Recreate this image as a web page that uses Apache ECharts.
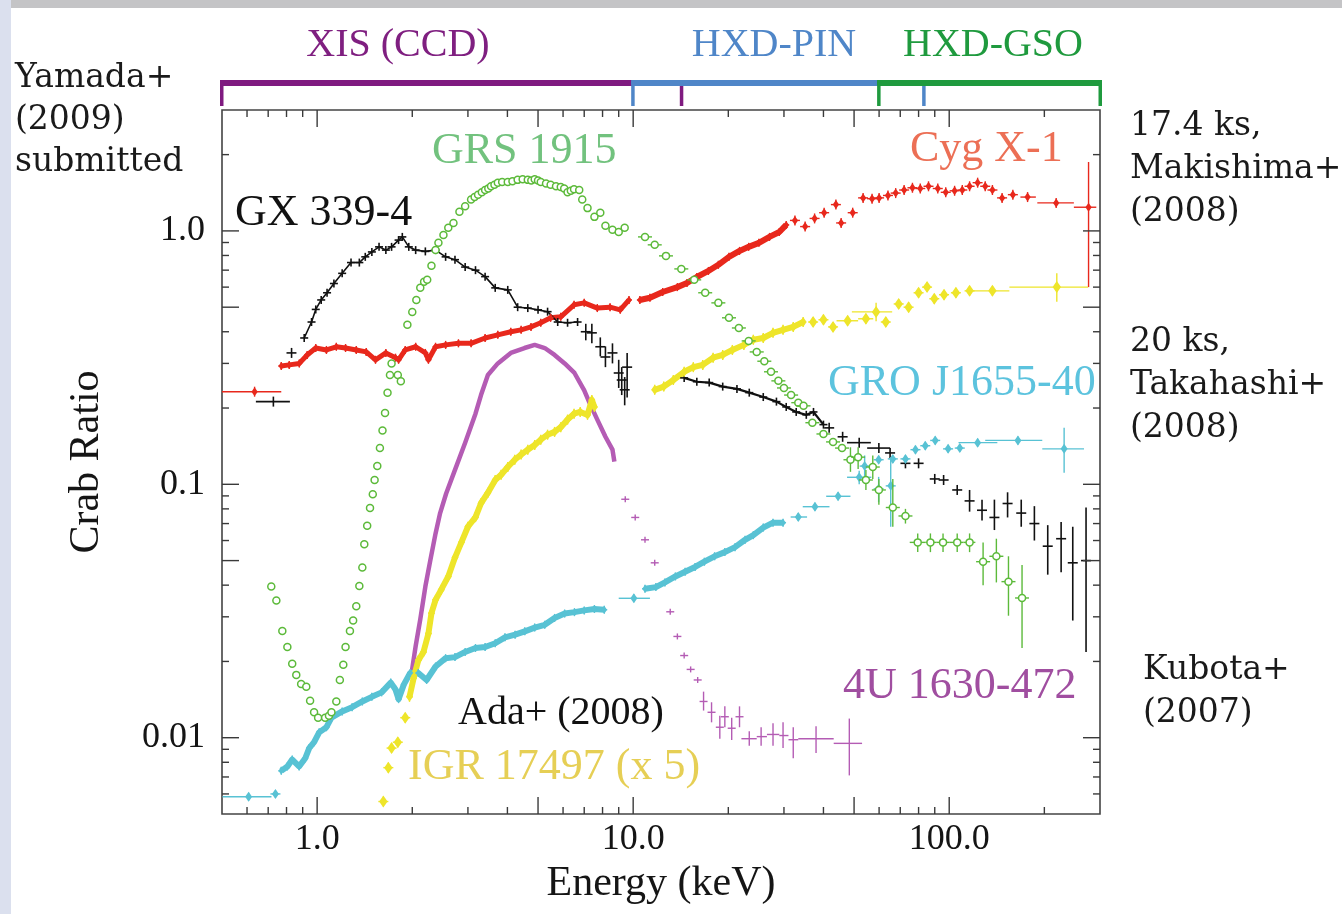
<!DOCTYPE html>
<html>
<head>
<meta charset="utf-8">
<script src="https://cdn.jsdelivr.net/npm/echarts@6/dist/echarts.min.js"></script>
<style>
html, body { margin: 0; padding: 0; background: #fff; }
#main { width: 1342px; height: 914px; }
</style>
</head>
<body>
<div id="main"></div>
<script>
// axis ranges and tick values
var X_MIN = 0.5, X_MAX = 300, Y_MIN = 0.005, Y_MAX = 3;
var xTicks = [0.6, 0.7, 0.8, 0.9, 1, 2, 3, 4, 5, 6, 7, 8, 9, 10, 20, 30, 40, 50, 60, 70, 80, 90, 100, 200];
var yTicks = [0.006, 0.007, 0.008, 0.009, 0.01, 0.02, 0.03, 0.04, 0.05, 0.06, 0.07, 0.08, 0.09,
              0.1, 0.2, 0.3, 0.4, 0.5, 0.6, 0.7, 0.8, 0.9, 1, 2];

// detector bands (keV)
var instruments = ['XIS (CCD)', 'HXD-PIN', 'HXD-GSO'];
var instrumentBands = [[0.5, 14.2], [10, 83], [60, 300]];

// points: [E, ratio] or [E, ratio, Elo, Ehi, Rlo, Rhi] (0 = no explicit error)
var cygXis = [[0.77,0.293],[0.816,0.296],[0.878,0.30],[0.93,0.324],[0.99,0.345],[1.07,0.339],[1.15,0.349],
  [1.23,0.345],[1.33,0.339],[1.43,0.333],[1.53,0.31],[1.65,0.33],[1.77,0.316],[1.81,0.31],[1.9,0.339],
  [2.05,0.349],[2.2,0.33],[2.25,0.31],[2.37,0.349],[2.55,0.355],[2.8,0.36],[3.07,0.36],[3.4,0.378],
  [3.73,0.389],[4.1,0.40],[4.42,0.407],[4.75,0.418],[5.1,0.434],[5.48,0.454],[5.9,0.458],[6.5,0.511],
  [7.0,0.52],[7.7,0.496],[8.45,0.50],[9.1,0.488],[9.7,0.534]];
var cygPin = [[10.5,0.534],[11.3,0.545],[12.4,0.574],[13.8,0.60],[14.8,0.623],[15.9,0.658],[17.3,0.695],
  [18.6,0.735],[20.1,0.79],[21.7,0.834],[23.2,0.865],[25,0.897],[27,0.947],[29,0.99],[30.5,1.056]];
var cygHard = [[0.634,0.232,0.5,0.77,0,0],[32.5,1.10],[35,1.04],[37.5,1.12],[40.2,1.18],[43.8,1.27],
  [45.5,1.075],[49.5,1.18],[53.4,1.35],[57,1.34],[60,1.35],[64,1.38],[67.7,1.41],[72,1.45],[76.5,1.48],
  [81,1.47],[86,1.5],[92,1.47],[97.5,1.42],[104,1.44],[110,1.45],[116,1.5],[123,1.55],[130,1.5],[137,1.45],
  [147,1.35],[159,1.39],[177,1.36,168,188,0,0],[218,1.29,190,248,0,0],[276,1.24,248,292,0.60,1.87]];

var gxXis = [[0.91,0.378],[0.96,0.437],[0.99,0.49],
  [1.03,0.534],[1.075,0.57],[1.13,0.62],[1.2,0.68],[1.28,0.75],[1.36,0.75],[1.42,0.79],[1.49,0.826],
  [1.57,0.865],[1.65,0.84],[1.72,0.865],[1.81,0.92],[1.86,0.947],[1.95,0.865],[2.05,0.84],[2.2,0.83],
  [2.37,0.84],[2.55,0.79],[2.73,0.77],[2.94,0.72],[3.17,0.70],[3.4,0.66],[3.66,0.596],[4.01,0.585],
  [4.31,0.50],[4.64,0.496],[5.0,0.488],[5.36,0.48],[5.77,0.437],[6.2,0.434],[6.67,0.437]];
var gxPin = [[14.5,0.263],[15.9,0.254],[17.4,0.252],[19.2,0.243],[21.3,0.238],[23.3,0.23],[25.8,0.221],
  [28.4,0.212],[30.5,0.202],[32.8,0.193],[35.3,0.188],[37.2,0.193],[40,0.172]];
var gxHard = [[0.727,0.212,0.64,0.82,0,0],[0.83,0.33,0.8,0.86,0,0],
  [7.08,0.40,0,0,0.37,0.43],[7.4,0.396,0,0,0.36,0.43],[7.87,0.349,0,0,0.32,0.38],[8.17,0.318,0,0,0.29,0.35],
  [8.6,0.33,0,0,0.3,0.36],[9.0,0.275,0,0,0.24,0.31],[9.2,0.258,0,0,0.225,0.29],[9.4,0.236,0,0,0.205,0.265],
  [9.57,0.29,0,0,0.22,0.33],
  [41.7,0.167],[46,0.154],
  [51.9,0.146,47.5,56.5,0,0],[59.9,0.139,55,65,0,0],[65,0.133],[72.7,0.121],[80,0.121],[90,0.105],[96,0.104],
  [106,0.095],[116,0.086,0,0,0.078,0.095],[127,0.079,0,0,0.072,0.087],[139,0.074,0,0,0.066,0.087],
  [153,0.084,0,0,0.074,0.093],[169,0.077,0,0,0.068,0.087],[186,0.07,0,0,0.06,0.082],
  [205,0.057,0,0,0.044,0.069],[226,0.061,0,0,0.045,0.071],[246,0.049,0,0,0.029,0.068],
  [271,0.050,0,0,0.0218,0.081]];

var grsXis = [[0.716,0.0395],[0.743,0.0348],[0.776,0.0264],[0.805,0.0228],[0.834,0.0196],[0.859,0.0177],
  [0.89,0.0163],[0.924,0.0159],[0.95,0.014],[0.978,0.0126],[1.007,0.012],[1.06,0.012],[1.09,0.0122],
  [1.11,0.0126],[1.15,0.0139],[1.18,0.0169],[1.21,0.0194],[1.23,0.0228],[1.27,0.0264],[1.3,0.029],
  [1.33,0.033],[1.36,0.0397],[1.39,0.047],[1.41,0.058],[1.44,0.0686],[1.47,0.0807],[1.5,0.0913],
  [1.52,0.104],[1.55,0.118],[1.58,0.139],[1.61,0.163],[1.64,0.191],[1.67,0.23],[1.7,0.27],[1.72,0.30],
  [1.8,0.27],[1.84,0.255],[1.93,0.426],[2.0,0.479],[2.06,0.534],[2.12,0.596],[2.18,0.63],[2.23,0.641],
  [2.3,0.728],[2.37,0.84],[2.42,0.897],[2.51,0.964],[2.6,1.03],[2.7,1.075],[2.82,1.19],[2.94,1.25],
  [3.07,1.33],[3.15,1.36],[3.23,1.39],[3.32,1.42],[3.4,1.45],[3.48,1.47],[3.55,1.5],[3.64,1.52],[3.73,1.55],
  [3.85,1.56],[4.01,1.56],[4.15,1.57],[4.31,1.59],[4.47,1.6],[4.64,1.59],[4.76,1.58],[4.88,1.6],[5.0,1.58],
  [5.1,1.56],[5.3,1.54],[5.48,1.52],[5.7,1.5],[5.9,1.49],[6.05,1.47],[6.2,1.42],[6.35,1.44],[6.5,1.46],
  [6.75,1.45],[6.9,1.33],[7.17,1.23],[7.54,1.136],[7.87,1.18],[8.17,1.047],[8.6,1.01],[9.0,0.99],[9.4,1.028]];
var grsPin = [[10.9,0.947],[11.7,0.881],[12.7,0.797],[14.2,0.708],[15.6,0.641],[16.9,0.57],[18.6,0.52],[20.1,0.454],
  [21.6,0.414],[23.2,0.368],[24.6,0.333],[26,0.306],[27.3,0.278],[28.8,0.256],[30,0.24],[31.6,0.225],
  [33.3,0.21],[34.6,0.204],[36.9,0.175],[40,0.158],[42.9,0.147],[45.8,0.139],
  [48.7,0.125,0,0,0.112,0.14],[51.5,0.128,0,0,0.115,0.14],[54.5,0.104,0,0,0.095,0.114],
  [57.3,0.117,0,0,0.105,0.13],[59.9,0.095,0,0,0.083,0.105],[66.3,0.081,0,0,0.068,0.105],
  [72.7,0.075,0,0,0.07,0.08],[79.5,0.059,75,84,0.054,0.064],[87.2,0.059,84,91,0.054,0.064],
  [95.6,0.059,91,100,0.054,0.064],[106,0.059,100,111,0.054,0.064],[116,0.059,111,121,0.054,0.064],
  [128,0.0495,0,0,0.040,0.059],[141,0.052,0,0,0.041,0.061],[154,0.0413,0,0,0.0303,0.052],
  [170,0.0356,0,0,0.0226,0.048]];

var u4Band = [[1.99,0.018],[2.05,0.023],[2.12,0.0293],[2.2,0.0395],[2.28,0.05],[2.37,0.064],[2.45,0.077],
  [2.56,0.092],[2.73,0.114],[2.94,0.146],[3.17,0.19],[3.3,0.225],[3.47,0.27],[3.73,0.30],[4.1,0.33],
  [4.53,0.345],[4.88,0.355],[5.25,0.345],[5.64,0.324],[6.07,0.30],[6.52,0.275],[7.0,0.235],[7.27,0.21],
  [7.7,0.18],[8.17,0.154],[8.6,0.137],[8.72,0.123]];
var u4Hard = [[9.44,0.0873],[10.15,0.074],[10.9,0.0604],[11.7,0.049],[13.1,0.0314],[13.8,0.0251],
  [14.5,0.0211],[15.2,0.0186],[16,0.0169],[16.7,0.0139,0,0,0.0128,0.0152],[17.7,0.0126,0,0,0.0115,0.0138],
  [18.8,0.011,0,0,0.0099,0.0122],[19.5,0.0121,0,0,0.011,0.0133],[20.5,0.0109,0,0,0.0098,0.012],
  [21.7,0.0121,0,0,0.011,0.0133],[23.3,0.00991,22,24.6,0.0093,0.0106],[25.4,0.0101,24.6,26.5,0.0093,0.011],
  [27.7,0.0103,26.5,29,0.0093,0.0114],[29.8,0.0102,29,31,0.0091,0.0115],[32.1,0.00982,31,33.3,0.0083,0.011],
  [37.9,0.0099,33.3,43.1,0.0087,0.0111],[48.3,0.0095,43.1,53,0.0071,0.0119]];

var groXis = [[0.77,0.0074],[0.805,0.0077],[0.834,0.0082],[0.877,0.0077],[0.917,0.0083],[0.944,0.0091],
  [0.978,0.0096],[1.015,0.0105],[1.07,0.011],[1.11,0.012],[1.2,0.0127],[1.29,0.0132],[1.39,0.0139],
  [1.49,0.0145],[1.6,0.0151],[1.71,0.0165],[1.77,0.0155],[1.81,0.0142],[1.88,0.0162],[1.97,0.018],
  [2.09,0.018],[2.22,0.0169],[2.37,0.0191],[2.55,0.0206],[2.73,0.0208],[2.94,0.0218],[3.17,0.0226],
  [3.4,0.0228],[3.66,0.0236],[3.93,0.0249],[4.23,0.0255],[4.54,0.0263],[4.88,0.0272],[5.25,0.0279],
  [5.64,0.0297],[6.07,0.0309],[6.52,0.0313],[7.0,0.0318],[7.54,0.0322],[8.1,0.032]];
var groPin = [[10.9,0.0387],[11.8,0.0393],[12.6,0.041],[13.6,0.0433],[14.6,0.0452],[15.7,0.0472],
  [16.8,0.0495],[18.1,0.052],[19.5,0.054],[21,0.0565],[22.6,0.0604],[24,0.063],[25.8,0.0675],
  [27.7,0.0706],[29.8,0.0706]];
var groHard = [[0.607,0.00585,0.502,0.717,0,0],[0.738,0.006],[10.05,0.0355,9.0,11.3,0,0],
  [33.3,0.0743,31.5,35.5,0,0],[37.6,0.0816,34.4,41.8,0,0],[44.5,0.0897,40.8,48.7,0,0],
  [51.9,0.1066,47.5,56.7,0.1,0.113],[54,0.118,0,0,0.107,0.13],[59.8,0.096,0,0,0.085,0.107],
  [65.3,0.0986,0,0,0.068,0.128],[59.8,0.125],[66.3,0.126],[72.7,0.126],[78.2,0.137],[84,0.142],
  [90.3,0.149],[99.2,0.138],[108,0.139],[123,0.146,107,142,0,0],[165,0.149,130,197,0,0],
  [231,0.138,197,267,0.111,0.167]];

var igrXis = [[1.96,0.0145],[2.02,0.0172],[2.09,0.0202],[2.17,0.0218],[2.25,0.0258],[2.3,0.031],
  [2.37,0.035],[2.47,0.0384],[2.6,0.0433],[2.73,0.0514],[2.86,0.059],[3.0,0.068],[3.17,0.0742],
  [3.3,0.0842],[3.47,0.0927],[3.66,0.104],[3.82,0.109],[4.01,0.117],[4.22,0.125],[4.42,0.131],
  [4.64,0.137],[4.88,0.143],[5.1,0.15],[5.36,0.157],[5.64,0.161],[5.9,0.168],[6.2,0.18],[6.5,0.19],
  [6.8,0.193],[7.17,0.188],[7.4,0.215],[7.54,0.202]];
var igrPin = [[11.7,0.236],[12.5,0.243],[13.4,0.258],[14.5,0.278],[15.5,0.29],[16.6,0.296],[17.9,0.316],
  [19.2,0.324],[20.6,0.339],[22.4,0.355],[24,0.372],[25.8,0.378],[27.7,0.396],[29.8,0.407],[32.1,0.418],
  [34.5,0.437]];
var igrHard = [[1.62,0.0056],[1.68,0.00762],[1.72,0.0091],[1.8,0.0096],[1.9,0.012],
  [37.1,0.437],[40,0.446],[42.9,0.418],[47.7,0.442,44,51.5,0,0],[54.5,0.45,51.5,57.5,0,0],
  [58.7,0.479,49.2,66,0.44,0.52],[63,0.437],[69.2,0.515],[74.4,0.50],[80,0.57],[85.1,0.60],[89.7,0.54],
  [96.3,0.56],[105,0.57],[116,0.58],[137,0.58,118,155,0,0],[219,0.60,155,275,0.525,0.68]];

var SERIF = '"Liberation Serif", "Times New Roman", serif';
var SIDE = '"DejaVu Serif", serif';

var chart = echarts.init(document.getElementById('main'));

function isPow10(v) {
    var l = Math.log10(v);
    return Math.abs(l - Math.round(l)) < 1e-6;
}
function isLongTick(v) {
    var m = v / Math.pow(10, Math.floor(Math.log10(v) + 1e-9));
    return Math.abs(m - 1) < 1e-6 || Math.abs(m - 5) < 1e-6;
}
function fmt(v) {
    if (!isPow10(v)) return '';
    return v >= 1 ? v.toFixed(1) : String(parseFloat(v.toPrecision(6)));
}

var tickStyle = { stroke: '#3a3a3a', lineWidth: 1.4 };
var tickSeries = [
    {
        type: 'custom', silent: true, z: 5,
        data: xTicks.map(function (v) { return [v, Y_MIN]; }),
        renderItem: function (params, api) {
            var v = xTicks[params.dataIndex];
            var len = isLongTick(v) ? 17 : 7;
            var b = api.coord([v, Y_MIN]), t = api.coord([v, Y_MAX]);
            return { type: 'group', children: [
                { type: 'line', shape: { x1: b[0], y1: b[1], x2: b[0], y2: b[1] - len }, style: tickStyle },
                { type: 'line', shape: { x1: t[0], y1: t[1], x2: t[0], y2: t[1] + len }, style: tickStyle }
            ] };
        }
    },
    {
        type: 'custom', silent: true, z: 5,
        data: yTicks.map(function (v) { return [X_MIN, v]; }),
        renderItem: function (params, api) {
            var v = yTicks[params.dataIndex];
            var len = isLongTick(v) ? 17 : 7;
            var l = api.coord([X_MIN, v]), r = api.coord([X_MAX, v]);
            return { type: 'group', children: [
                { type: 'line', shape: { x1: l[0], y1: l[1], x2: l[0] + len, y2: l[1] }, style: tickStyle },
                { type: 'line', shape: { x1: r[0], y1: r[1], x2: r[0] - len, y2: r[1] }, style: tickStyle }
            ] };
        }
    }
];

var instrumentColors = ['#7f1a80', '#4f86c8', '#1f9a3e'];
var bracketSeries = {
    type: 'custom', silent: true, z: 6,
    data: instrumentBands.map(function (b) { return [b[0], Y_MAX, b[1]]; }),
    encode: { x: [0, 2], y: 1 },
    renderItem: function (params, api) {
        var b = instrumentBands[params.dataIndex];
        var c = instrumentColors[params.dataIndex];
        var p1 = api.coord([b[0], Y_MAX]), p2 = api.coord([b[1], Y_MAX]);
        var yBar = p1[1] - 30, yLeg = p1[1] - 4;
        return { type: 'group', children: [
            { type: 'rect', shape: { x: p1[0] - 2, y: yBar, width: p2[0] - p1[0] + 4, height: 6, r: 2 }, style: { fill: c } },
            { type: 'rect', shape: { x: p1[0] - 2, y: yBar, width: 3.5, height: yLeg - yBar }, style: { fill: c } },
            { type: 'rect', shape: { x: p2[0] - 1.5, y: yBar, width: 3.5, height: yLeg - yBar }, style: { fill: c } }
        ] };
    }
};

// points with error bars; opt: mark, size, hx, hy (default half sizes in px)
function pointSeries(name, pts, color, opt) {
    return {
        type: 'custom', name: name, silent: true, z: opt.z || 3,
        data: pts.map(function (p) { return [p[0], p[1]]; }),
        encode: { x: 0, y: 1 },
        renderItem: function (params, api) {
            var d = pts[params.dataIndex];
            var c = api.coord([d[0], d[1]]);
            var kids = [];
            var xl = c[0] - opt.hx, xr = c[0] + opt.hx, yt = c[1] - opt.hy, yb = c[1] + opt.hy;
            if (d[2]) { xl = api.coord([d[2], d[1]])[0]; xr = api.coord([d[3], d[1]])[0]; }
            if (d[4]) { yb = api.coord([d[0], d[4]])[1]; yt = api.coord([d[0], d[5]])[1]; }
            var ls = { stroke: color, lineWidth: opt.lw || 1.4 };
            if (xr - xl > 0.5) kids.push({ type: 'line', shape: { x1: xl, y1: c[1], x2: xr, y2: c[1] }, style: ls });
            if (yb - yt > 0.5) kids.push({ type: 'line', shape: { x1: c[0], y1: yt, x2: c[0], y2: yb }, style: ls });
            var s = opt.size || 3;
            if (opt.mark === 'diamond') {
                kids.push({ type: 'polygon', shape: { points: [[c[0], c[1] - s], [c[0] + s * 0.7, c[1]], [c[0], c[1] + s], [c[0] - s * 0.7, c[1]]] }, style: { fill: color } });
            } else if (opt.mark === 'ring') {
                kids.push({ type: 'circle', shape: { cx: c[0], cy: c[1], r: s }, style: { fill: '#fff', stroke: color, lineWidth: 1.5 } });
            } else if (opt.mark === 'dot') {
                kids.push({ type: 'circle', shape: { cx: c[0], cy: c[1], r: s }, style: { fill: color } });
            }
            return { type: 'group', children: kids };
        }
    };
}

function bandSeries(name, pts, color, width) {
    return {
        type: 'line', name: name, data: pts, symbol: 'none', showSymbol: false, silent: true, z: 2,
        lineStyle: { color: color, width: width, join: 'round' }, animation: false
    };
}

var C_CYG = '#e8281c', C_GX = '#111111', C_GRS = '#5cba3a', C_4U = '#b45cb4', C_GRO = '#58c2d4', C_IGR = '#eee52a';

var series = [].concat(tickSeries, [bracketSeries,
    bandSeries('Cyg X-1', cygXis, C_CYG, 5),
    bandSeries('Cyg X-1', cygPin, C_CYG, 6),
    pointSeries('Cyg X-1', cygXis.concat(cygPin), C_CYG, { mark: 'diamond', size: 4, hx: 3, hy: 4 }),
    pointSeries('Cyg X-1', cygHard, C_CYG, { mark: 'diamond', size: 4.5, hx: 5, hy: 5 }),
    bandSeries('GX 339-4', gxXis, C_GX, 1.6),
    bandSeries('GX 339-4', gxPin, C_GX, 2.2),
    pointSeries('GX 339-4', gxXis.concat(gxPin), C_GX, { mark: 'none', hx: 4, hy: 4, lw: 1.6 }),
    pointSeries('GX 339-4', gxHard, C_GX, { mark: 'none', hx: 5, hy: 5, lw: 1.6 }),
    bandSeries('4U 1630-472', u4Band, C_4U, 4.5),
    pointSeries('4U 1630-472', u4Hard, C_4U, { mark: 'none', hx: 4, hy: 3, lw: 1.4 }),
    bandSeries('GRO J1655-40', groXis, C_GRO, 6),
    bandSeries('GRO J1655-40', groPin, C_GRO, 6),
    pointSeries('GRO J1655-40', groXis.concat(groPin), C_GRO, { mark: 'diamond', size: 4, hx: 3, hy: 4 }),
    pointSeries('GRO J1655-40', groHard, C_GRO, { mark: 'diamond', size: 5, hx: 5, hy: 4 }),
    bandSeries('IGR 17497', igrXis, C_IGR, 6),
    bandSeries('IGR 17497', igrPin, C_IGR, 6),
    pointSeries('IGR 17497', igrXis.concat(igrPin), C_IGR, { mark: 'diamond', size: 5, hx: 3, hy: 5 }),
    pointSeries('IGR 17497', igrHard, C_IGR, { mark: 'diamond', size: 6, hx: 5, hy: 5 }),
    pointSeries('GRS 1915', grsXis, C_GRS, { mark: 'ring', size: 3.5, hx: 0, hy: 0, z: 4 }),
    pointSeries('GRS 1915', grsPin, C_GRS, { mark: 'ring', size: 3.5, hx: 7, hy: 0, z: 4 })
]);

function txt(text, x, y, color, size, family, align, lh) {
    return {
        type: 'text', x: x, y: y, silent: true, z: 10,
        style: {
            text: text, fill: color, font: size + 'px ' + family,
            align: align || 'left', textAlign: align || 'left',
            verticalAlign: 'middle', textVerticalAlign: 'middle',
            lineHeight: lh || size
        }
    };
}

chart.setOption({
    backgroundColor: '#ffffff',
    animation: false,
    grid: { left: 222, top: 110, right: 242, bottom: 100, show: true, borderColor: '#444', borderWidth: 1.6, backgroundColor: 'transparent' },
    xAxis: {
        type: 'log', logBase: 10, min: X_MIN, max: X_MAX,
        axisLine: { show: false }, axisTick: { show: false }, splitLine: { show: false },
        axisLabel: { formatter: fmt, color: '#151515', fontFamily: SERIF, fontSize: 36, margin: 8 },
        name: 'Energy (keV)', nameLocation: 'middle', nameGap: 44,
        nameTextStyle: { color: '#151515', fontFamily: SERIF, fontSize: 42, verticalAlign: 'top' }
    },
    yAxis: {
        type: 'log', logBase: 10, min: Y_MIN, max: Y_MAX,
        axisLine: { show: false }, axisTick: { show: false }, splitLine: { show: false },
        axisLabel: { formatter: fmt, color: '#151515', fontFamily: SERIF, fontSize: 36, margin: 17 },
        name: 'Crab Ratio', nameLocation: 'middle', nameGap: 114,
        nameTextStyle: { color: '#151515', fontFamily: SERIF, fontSize: 42 }
    },
    graphic: [
        { type: 'rect', shape: { x: 0, y: 0, width: 1342, height: 8 }, style: { fill: '#c4c4c6' }, silent: true, z: -1 },
        { type: 'rect', shape: { x: 0, y: 0, width: 11, height: 914 }, style: { fill: '#dbe0ee' }, silent: true, z: -1 },
        txt(instruments[0], 398, 45, '#7f1f80', 40, SERIF, 'center'),
        txt(instruments[1], 774, 45, '#4f86c8', 40, SERIF, 'center'),
        txt(instruments[2], 993, 45, '#1f9a3e', 40, SERIF, 'center'),
        txt('Yamada+\n(2009)\nsubmitted', 15, 120, '#1a1a1a', 33, SIDE, 'left', 42),
        txt('17.4 ks,\nMakishima+\n(2008)', 1130, 169, '#1a1a1a', 33, SIDE, 'left', 43),
        txt('20 ks,\nTakahashi+\n(2008)', 1130, 385, '#1a1a1a', 33, SIDE, 'left', 43),
        txt('Kubota+\n(2007)', 1143, 692, '#1a1a1a', 33, SIDE, 'left', 43),
        txt('GRS 1915', 432, 151, '#72c27e', 44, SERIF),
        txt('Cyg X-1', 910, 149, '#ec6f55', 44, SERIF),
        txt('GX 339-4', 235, 213, '#111111', 44, SERIF),
        txt('GRO J1655-40', 828, 383, '#5cc3de', 44, SERIF),
        txt('4U 1630-472', 843, 686, '#a04ea0', 44, SERIF),
        txt('Ada+ (2008)', 458, 713, '#111111', 40, SERIF),
        txt('IGR 17497 (x 5)', 408, 767, '#e6cf55', 44, SERIF)
    ],
    series: series
});
</script>
</body>
</html>
